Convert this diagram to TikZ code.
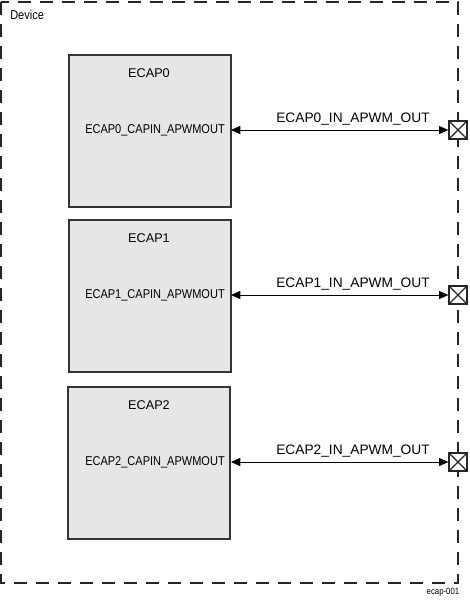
\documentclass[tikz,border=0pt]{standalone}
\usepackage{fontspec}
\setmainfont{Liberation Sans}
\newfontfamily\narrowfont[FakeStretch=0.86]{Liberation Sans}
\usetikzlibrary{arrows.meta}
\begin{document}
\begin{tikzpicture}[x=0.75pt,y=-0.75pt,
  ecapbox/.style={draw=black!80,line width=1.8pt,fill={rgb,255:red,230;green,230;blue,233},minimum width=121.5pt,minimum height=114pt,inner sep=0pt},
  lbl/.style={font=\fontsize{9}{10}\selectfont,inner sep=0pt},
  portlbl/.style={font=\narrowfont\fontsize{9.6}{10}\selectfont,inner sep=0pt},
  siglbl/.style={font=\fontsize{10.3}{11}\selectfont,inner sep=0pt},
  pin/.style={draw=black!85,line width=1.4pt,fill=white,minimum size=13pt,inner sep=0pt,path picture={\draw[line width=0.9pt] (path picture bounding box.south west)--(path picture bounding box.north east) (path picture bounding box.north west)--(path picture bounding box.south east);}},
  sig/.style={line width=0.75pt,{Triangle[length=7pt,width=6pt]}-{Triangle[length=7pt,width=6pt]}}
]
\useasboundingbox (0,0) rectangle (470,600);
\draw[line width=1.6pt,dash pattern=on 10pt off 6.5pt,black!85] (1,2) rectangle (458,583);
\node[portlbl,anchor=west] (dev) at (10,15) {Device};
\node[lbl,anchor=center,font=\narrowfont\fontsize{6.8}{7}\selectfont] (fig) at (443,592) {ecap-001};

\foreach \i/\y/\xl in {0/54/68,1/219/68,2/386/67}{
  \node[ecapbox,anchor=north west] (box\i) at (\xl,\y) {};
  \node[lbl,font=\fontsize{9.5}{10}\selectfont] (t\i) at (149,\y+19) {ECAP\i};
  \node[portlbl] (p\i) at (155,\y+76) {ECAP\i\_CAPIN\_APWMOUT};
  \node[pin] (pin\i) at (458,\y+76) {};
  \coordinate (s\i) at (231,\y+76);
  \draw[sig] (s\i) -- (pin\i.west);
  \node[siglbl] (n\i) at (353,\y+65) {ECAP\i\_IN\_APWM\_OUT};
}
\end{tikzpicture}
\end{document}
